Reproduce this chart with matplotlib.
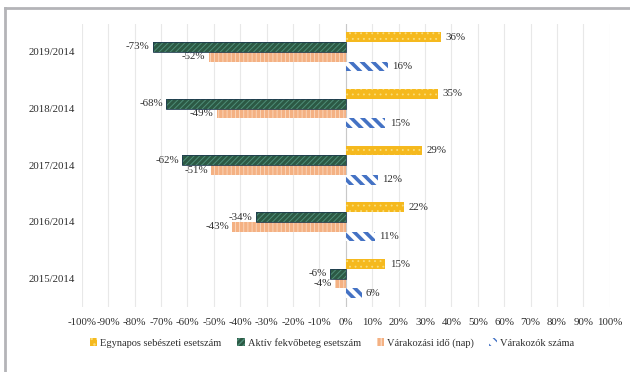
import matplotlib
matplotlib.use("Agg")
import matplotlib.pyplot as plt
from matplotlib.lines import Line2D
import numpy as np

plt.rcParams["font.family"] = ["Liberation Serif", "DejaVu Serif"]

categories = ["2019/2014", "2018/2014", "2017/2014", "2016/2014", "2015/2014"]
series_names = ["Egynapos sebészeti esetszám", "Aktív fekvőbeteg esetszám",
                "Várakozási idő (nap)", "Várakozók száma"]
egynapos = [36, 35, 29, 22, 15]
aktiv = [-73, -68, -62, -34, -6]
varakozasi_ido = [-52, -49, -51, -43, -4]
varakozok = [16, 15, 12, 11, 6]
x_ticks = list(range(-100, 101, 10))

styles = [
    dict(face="#F5B91E", hatch_color="#FADD7A", hatch="...", hlw=0.6),
    dict(face="#2C5944", hatch_color="#4E8D78", hatch="//////", hlw=0.7),
    dict(face="#F4B183", hatch_color="#FBD9C0", hatch="||||", hlw=0.6),
    dict(face="#FFFFFF", hatch_color="#4472C4", hatch="\\\\\\", hlw=2.6),
]

fig = plt.figure(figsize=(6.30, 3.72), dpi=100)
ax = fig.add_axes([0.130, 1 - 307 / 372, 0.838, (307 - 23.5) / 372])

y = np.arange(len(categories))
h = 0.172
offsets = [-1.5 * h, -0.5 * h, 0.5 * h, 1.5 * h]
data = [egynapos, aktiv, varakozasi_ido, varakozok]

handles = []
for vals, off, st, name in zip(data, offsets, styles, series_names):
    with plt.rc_context({"hatch.linewidth": st["hlw"]}):
        bars = ax.barh(y + off, vals, height=h, color=st["face"],
                       edgecolor=st["hatch_color"], hatch=st["hatch"],
                       linewidth=0, label=name, zorder=3)
        for b in bars:
            if hasattr(b, "set_hatch_linewidth"):
                b.set_hatch_linewidth(st["hlw"])
    if st is styles[1]:
        ax.barh(y + off, vals, height=h, fill=False, edgecolor="#1E3B4F",
                linewidth=0.6, zorder=4)
    handles.append(bars)
    for yy, v in zip(y + off, vals):
        if v >= 0:
            ax.annotate(f"{v}%", (v, yy), xytext=(3, 0), textcoords="offset points",
                        ha="left", va="center", fontsize=7.8, color="#2E2E2E")
        else:
            ax.annotate(f"{v}%", (v, yy), xytext=(-2.5, 0), textcoords="offset points",
                        ha="right", va="center", fontsize=7.8, color="#2E2E2E")

ax.set_xlim(-100, 100)
ax.set_ylim(len(categories) - 0.5, -0.5)
ax.set_xticks(x_ticks)
ax.set_xticklabels([f"{t}%" for t in x_ticks])
ax.set_yticks(y)
ax.set_yticklabels(categories)
ax.tick_params(axis="both", length=0, labelsize=7.8, colors="#2E2E2E")
ax.tick_params(axis="x", pad=8)
ax.tick_params(axis="y", pad=5)
ax.grid(axis="x", color="#E8E8E8", linewidth=0.8, zorder=0)
ax.axvline(0, color="#C8C8C8", linewidth=0.8, zorder=2)
for s in ax.spines.values():
    s.set_visible(False)

fig.legend(handles=handles, labels=series_names, loc="center",
           bbox_to_anchor=(0.527, 1 - 343 / 372), ncol=4, frameon=False,
           fontsize=7.5, handlelength=0.7, handleheight=0.7, handletextpad=0.3,
           columnspacing=1.5, labelcolor="#2E2E2E")

# outer frame: top and left edges
fig.add_artist(Line2D([5 / 630, 1], [1 - 8 / 372, 1 - 8 / 372],
                      transform=fig.transFigure, color="#B4B4B8", linewidth=2))
fig.add_artist(Line2D([5 / 630, 5 / 630], [0, 1 - 8 / 372],
                      transform=fig.transFigure, color="#B4B4B8", linewidth=2))

fig.savefig("out.png", dpi=100)
